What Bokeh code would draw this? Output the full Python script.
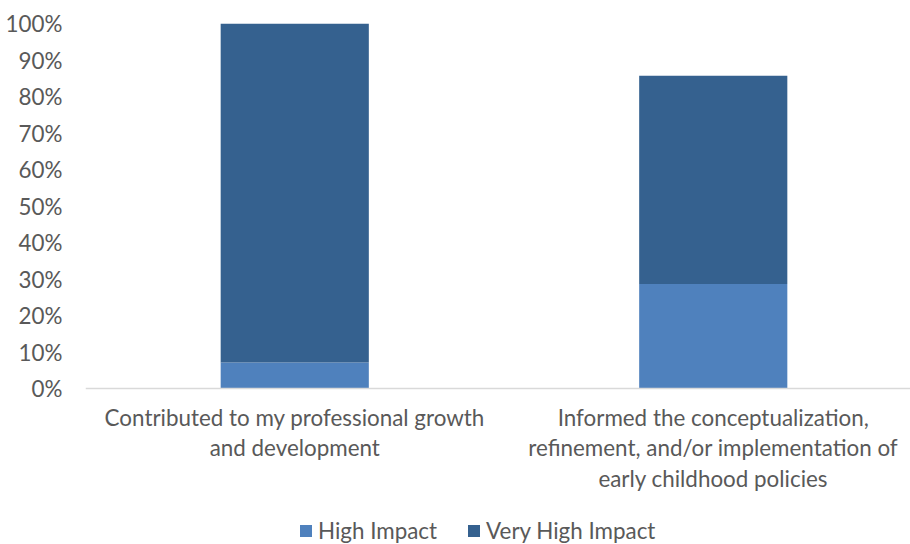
from bokeh.plotting import figure
from bokeh.models import (Range1d, ColumnDataSource, Legend, LegendItem,
                          FixedTicker, NumeralTickFormatter, Span)
from bokeh.core.properties import value
from bokeh.embed import file_html
from bokeh.resources import INLINE

categories = [
    "Contributed to my professional growth\nand development",
    "Informed the conceptualization,\nrefinement, and/or implementation of\nearly childhood policies",
]
high_impact = [0.071, 0.286]
very_high_impact = [0.929, 0.571]
series_names = ["High Impact", "Very High Impact"]
series_colors = ["#4F81BD", "#35618F"]
y_ticks = [0, 0.1, 0.2, 0.3, 0.4, 0.5, 0.6, 0.7, 0.8, 0.9, 1.0]

FONT = "Lato"
TXT = "#595959"
FS = "22.4px"

# category slots: each category occupies one unit, centred at i + 0.5
xs = [i + 0.5 for i in range(len(categories))]
src = ColumnDataSource(dict(x=xs, cat=categories, base=[0] * len(categories),
                            high=high_impact, vhigh=very_high_impact))

# frame spans the whole lower area so labels and legend sit inside it;
# the original plot area extends past the right edge of the picture
p = figure(x_range=Range1d(0, 825 / 418.5), y_range=Range1d(-156 / 365, 1),
           frame_width=825, frame_height=521, output_backend="svg", toolbar_location=None,
           x_axis_location=None,
           min_border_left=85, min_border_right=0, min_border_top=23, min_border_bottom=0)
p.outline_line_color = None
p.xgrid.grid_line_color = None
p.ygrid.grid_line_color = None

rs = p.vbar_stack(["high", "vhigh"], x="x", width=0.354, source=src,
                  color=series_colors, line_color=None)

# category axis line at 0
p.add_layout(Span(location=0, dimension="width", line_color="#D9D9D9", line_width=1.5))

# category labels under the axis line
p.text(x="x", y="base", text="cat", source=src, text_align="center", text_baseline="top",
       y_offset=15, text_font=value(FONT), text_font_size=value(FS), text_color=TXT,
       text_line_height=1.13)

p.yaxis.ticker = FixedTicker(ticks=y_ticks)
p.yaxis.formatter = NumeralTickFormatter(format="0%")
p.yaxis.axis_line_color = None
p.yaxis.major_tick_line_color = None
p.yaxis.minor_tick_line_color = None
p.yaxis.major_tick_out = 0
p.yaxis.major_label_standoff = 23
p.yaxis.major_label_text_font = FONT
p.yaxis.major_label_text_font_size = FS
p.yaxis.major_label_text_color = TXT

legend = Legend(items=[LegendItem(label=n, renderers=[r]) for n, r in zip(series_names, rs)],
                orientation="horizontal", location=(213, 0),
                label_text_font=FONT, label_text_font_size=FS, label_text_color=TXT,
                glyph_width=15, glyph_height=15, label_standoff=5, spacing=29,
                border_line_color=None, background_fill_alpha=0, margin=0, padding=2)
p.add_layout(legend, "center")

open("out.html", "w").write(file_html(p, INLINE))
